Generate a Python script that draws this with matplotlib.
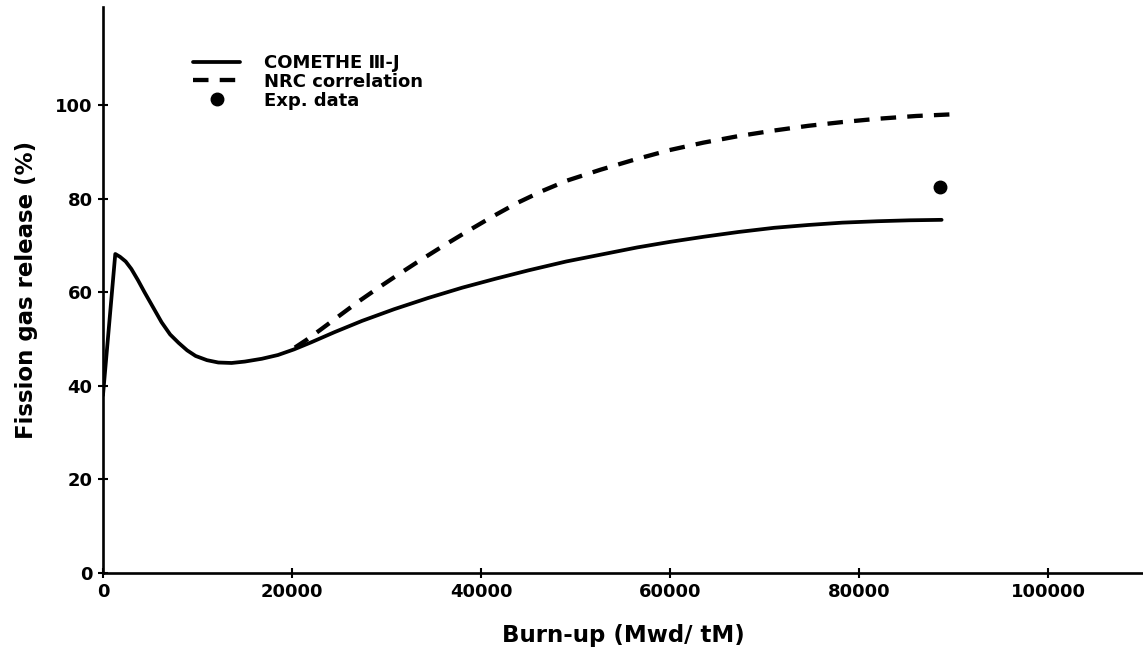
import numpy as np
import matplotlib.pyplot as plt

# values
burnup_comethe = [0, 1300, 1800, 2400, 3000, 3700, 4400, 5300, 6200, 7100,
                  8000, 8900, 9800, 11000, 12200, 13600, 15000, 16800, 18500,
                  20200, 22000, 24500, 27400, 30800, 34400, 38000, 41500,
                  45000, 49000, 53000, 56500, 60000, 63600, 67200, 71000,
                  74600, 78200, 81900, 85300, 88700]
fgr_comethe = [38, 68.2, 67.6, 66.6, 65.0, 62.6, 60.0, 56.8, 53.6, 51.0,
               49.2, 47.6, 46.4, 45.5, 45.0, 44.9, 45.2, 45.8, 46.6,
               47.8, 49.3, 51.5, 53.9, 56.4, 58.8, 61.0, 62.9,
               64.7, 66.6, 68.2, 69.6, 70.8, 71.9, 72.9, 73.8,
               74.4, 74.9, 75.2, 75.4, 75.5]

burnup_nrc = [20300, 21500, 23000, 25000, 27000, 29000, 31000, 33200, 35800,
              38500, 41200, 43800, 46500, 49100, 52600, 56100, 59900, 63500,
              67200, 71000, 74600, 78200, 81900, 86000, 90300]
fgr_nrc = [48.2, 49.8, 52.0, 55.0, 58.0, 60.8, 63.5, 66.4, 69.7,
           73.0, 76.2, 79.1, 81.7, 83.9, 86.2, 88.3, 90.4, 92.0,
           93.4, 94.6, 95.6, 96.4, 97.1, 97.7, 98.1]

burnup_exp = [88500]
fgr_exp = [82.6]

xticks = [0, 20000, 40000, 60000, 80000, 100000]
yticks = [0, 20, 40, 60, 80, 100]

plt.rcParams['font.family'] = ['DejaVu Sans']
plt.rcParams['font.weight'] = 'bold'

fig = plt.figure(figsize=(11.43, 6.6), dpi=100)
ax = fig.add_axes([0.0901, 0.1318, 0.9099, 0.8576])

ax.plot(burnup_comethe, fgr_comethe, color='black', lw=2.7,
        solid_joinstyle='round', solid_capstyle='round',
        label='COMETHE \u2162-J')
ax.plot(burnup_nrc, fgr_nrc, color='black', lw=3.1, dashes=(3.6, 2.6),
        dash_capstyle='butt', label='NRC correlation')
ax.plot(burnup_exp, fgr_exp, 'o', color='black', ms=9, label='Exp. data')

ax.set_xlim(0, 110000)
ax.set_ylim(0, 121)
ax.set_xticks(xticks)
ax.set_yticks(yticks)
ax.set_xticklabels([str(t) for t in xticks], fontsize=13, fontweight='bold')
ax.set_yticklabels([str(t) for t in yticks], fontsize=13, fontweight='bold')
ax.tick_params(direction='inout', length=7, width=1.5, pad=4)

for s in ['top', 'right']:
    ax.spines[s].set_visible(False)
for s in ['left', 'bottom']:
    ax.spines[s].set_linewidth(1.9)

ax.set_xlabel('Burn-up (Mwd/ tM)', fontsize=16.5, fontweight='bold',
              labelpad=16)
ax.set_ylabel('Fission gas release (%)', fontsize=16.5, fontweight='bold',
              labelpad=12)

leg = ax.legend(loc='upper left', bbox_to_anchor=(0.08, 0.93), frameon=False,
                fontsize=13, handlelength=2.6, handletextpad=1.3,
                labelspacing=0.05, borderaxespad=0)
for t in leg.get_texts():
    t.set_fontweight('bold')

fig.savefig('out.png', dpi=100)
